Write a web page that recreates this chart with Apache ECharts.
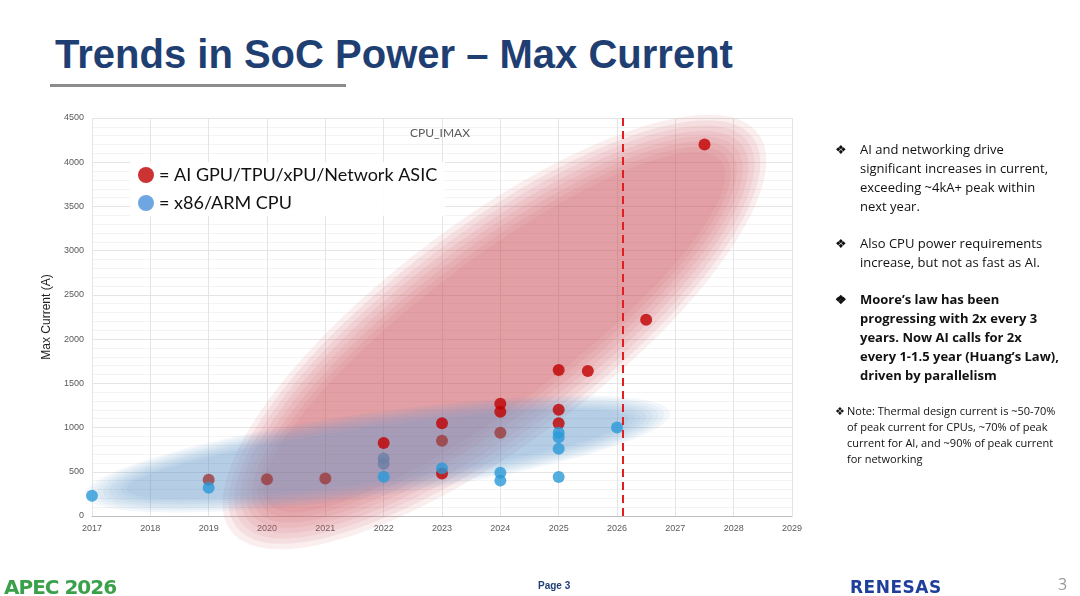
<!DOCTYPE html>
<html><head><meta charset="utf-8">
<script src="https://cdn.jsdelivr.net/npm/echarts@6/dist/echarts.min.js"></script>
<style>
body{margin:0;width:1080px;height:596px;background:#fff;font-family:"Open Sans","Noto Sans",sans-serif;position:relative;overflow:hidden}
#title{position:absolute;left:55px;top:32px;font:bold 40px "Liberation Sans",Arial,sans-serif;color:#1f3f73}
#rule{position:absolute;left:50px;top:84px;width:296px;height:3px;background:#8c8c8c}
#chart{position:absolute;left:0;top:0;width:1080px;height:596px}
#notes{position:absolute;left:835px;top:140px;width:225px;font-size:13px;color:#111;line-height:19px}
#notes .b{display:flex;margin-bottom:18px}
#notes .m{width:25px;flex:none}
#foot{position:absolute;left:538px;top:580px;font:bold 10px sans-serif;color:#1f3f73}
#logo1{position:absolute;left:4px;top:575px;font:900 20px "DejaVu Sans";color:#3aa14a;letter-spacing:-1px}
#logo2{position:absolute;left:850px;top:577px;font:bold 17px "DejaVu Sans";color:#1f3f9a;letter-spacing:0.5px}
#pg{position:absolute;left:1058px;top:573px;font-size:16px;color:#999}
</style></head><body>
<div id="title">Trends in SoC Power – Max Current</div>
<div id="rule"></div>
<div id="chart"></div>
<div id="notes">
<div class="b"><span class="m">❖</span><span>AI and networking drive significant increases in current, exceeding ~4kA+ peak within next year.</span></div>
<div class="b"><span class="m">❖</span><span>Also CPU power requirements increase, but not as fast as AI.</span></div>
<div class="b" style="font-weight:bold"><span class="m">❖</span><span>Moore’s law has been progressing with 2x every 3 years. Now AI  calls for 2x every 1-1.5 year (Huang’s Law), driven by parallelism</span></div>
<div class="b" style="font-size:11px;line-height:16px"><span class="m" style="width:12px">❖</span><span>Note: Thermal design current is ~50-70% of peak current for CPUs, ~70% of peak current for AI, and ~90% of peak current for networking</span></div>
</div>
<div id="logo1">APEC 2026</div>
<div id="foot">Page 3</div>
<div id="logo2">RENESAS</div>
<div id="pg">3</div>
<script>
// AI / ASIC points [year, amps]
var aiPoints = [[2022,825],[2023,1050],[2023,480],[2024,1270],[2024,1180],[2025,1650],[2025,1200],[2025,1050],[2025.5,1640],[2026.5,2220],[2027.5,4200]];
// AI points sitting inside the CPU band (drawn darker)
var aiDimPoints = [[2019,410],[2020,415],[2021,425],[2023,850],[2024,940]];
// CPU points
var cpuPoints = [[2017,230],[2019,320],[2022,445],[2023,540],[2024,490],[2024,400],[2025,940],[2025,890],[2025,760],[2025,440],[2026,1000]];
var cpuDimPoints = [[2022,650],[2022,590]];
// trend bands: [centerYear, centerAmps, halfLen px, halfWidth px, angle deg]
var aiBand = [[2023.9, 2080, 330, 110, 37]];
var cpuBand = [[2021.9, 700, 295, 42, 8]];
var cutoffYear = 2026.1;

// soft-edged ellipse: concentric layers, each adding a little opacity
function band(rgb, alpha) {
  return function (params, api) {
    var c = api.coord([api.value(0), api.value(1)]);
    var rx = api.value(2), ry = api.value(3), layers = [], n = 8;
    for (var i = 0; i < n; i++) {
      layers.push({
        type: 'ellipse',
        shape: { cx: 0, cy: 0, rx: rx * (1 - i * 0.02), ry: ry * (1 - i * 0.05) },
        style: { fill: 'rgba(' + rgb + ',' + (alpha / n * 1.4) + ')' }
      });
    }
    return { type: 'group', x: c[0], y: c[1], rotation: api.value(4) * Math.PI / 180, children: layers };
  };
}

var chart = echarts.init(document.getElementById('chart'));
chart.setOption({
  animation: false,
  grid: { left: 92, right: 288, top: 118, bottom: 80 },
  title: { text: 'CPU_IMAX', left: 405, top: 122, textStyle: { fontSize: 12, fontWeight: 'normal', color: '#595959', fontFamily: 'Lato' } },
  legend: {
    left: 130, top: 162, orient: 'vertical', itemGap: 10, itemWidth: 16, itemHeight: 16,
    backgroundColor: 'rgba(255,255,255,0.9)', padding: [4, 8],
    textStyle: { fontSize: 18, color: '#111', fontFamily: 'Lato' },
    data: [
      { name: '= AI GPU/TPU/xPU/Network ASIC', icon: 'circle', itemStyle: { color: '#c00000' } },
      { name: '= x86/ARM CPU', icon: 'circle', itemStyle: { color: '#4a90d9' } }
    ]
  },
  xAxis: {
    type: 'value', min: 2017, max: 2029, interval: 1,
    axisLabel: { fontSize: 9, color: '#595959', formatter: function (v) { return String(v); } },
    axisLine: { lineStyle: { color: '#bfbfbf' } }, axisTick: { show: false },
    splitLine: { lineStyle: { color: '#e4e4e4' } }
  },
  yAxis: {
    type: 'value', min: 0, max: 4500, interval: 500,
    name: 'Max Current (A)', nameLocation: 'middle', nameGap: 32,
    nameTextStyle: { fontSize: 12, color: '#222' },
    axisLabel: { fontSize: 9, color: '#595959', formatter: function (v) { return String(v); } },
    axisLine: { show: false }, axisTick: { show: false },
    splitLine: { lineStyle: { color: '#e4e4e4' } },
    minorTick: { show: false }, minorSplitLine: { show: true, lineStyle: { color: '#f3f3f3' } }
  },
  series: [
    { type: 'custom', name: 'aiBand', data: aiBand, renderItem: band('205,95,105', 0.6), silent: true, z: 1 },
    { type: 'custom', name: 'cpuBand', data: cpuBand, renderItem: band('100,150,210', 0.45), silent: true, z: 1 },
    { type: 'scatter', name: '= AI GPU/TPU/xPU/Network ASIC', data: aiPoints, symbolSize: 12, itemStyle: { color: '#c00000' }, z: 3 },
    { type: 'scatter', name: 'aiDim', data: aiDimPoints, symbolSize: 12, itemStyle: { color: '#9c3b3b' }, z: 3 },
    { type: 'scatter', name: '= x86/ARM CPU', data: cpuPoints, symbolSize: 12, itemStyle: { color: '#2a9ad8' }, z: 3,
      markLine: { silent: true, symbol: 'none', label: { show: false },
        lineStyle: { color: '#e02020', type: [8, 5], width: 2 }, data: [{ xAxis: cutoffYear }] } },
    { type: 'scatter', name: 'cpuDim', data: cpuDimPoints, symbolSize: 12, itemStyle: { color: '#6d7fa6' }, z: 3 }
  ]
});
</script>
</body></html>
